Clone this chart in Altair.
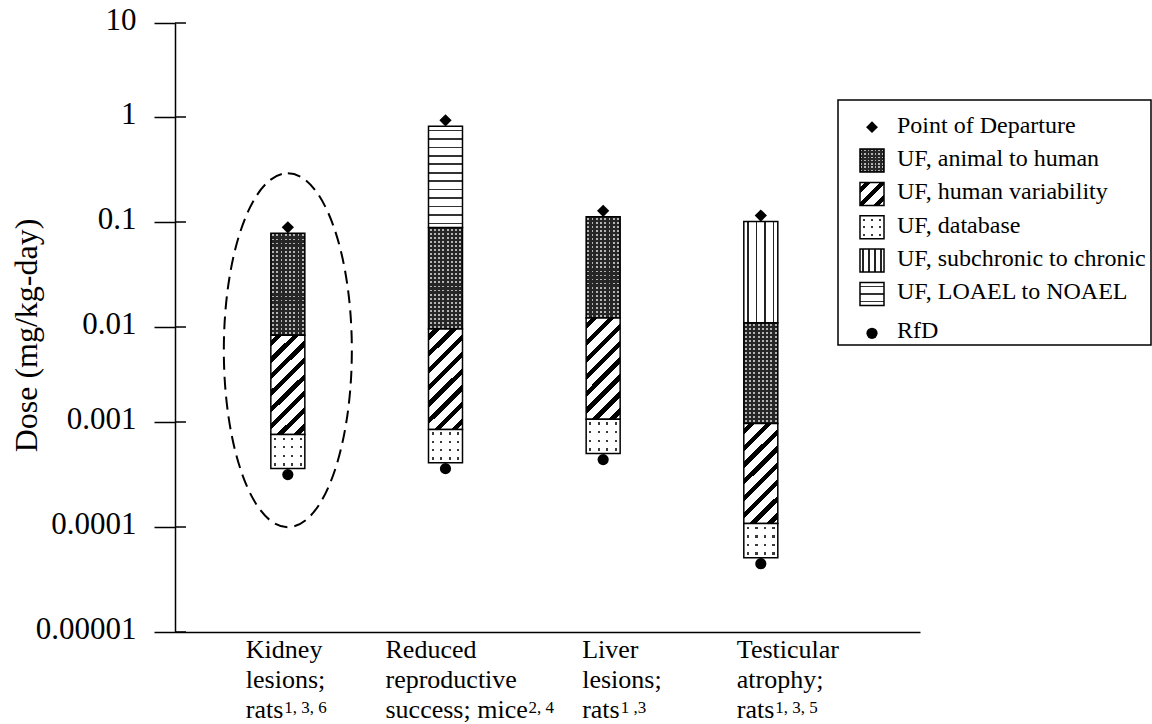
import altair as alt
import pandas as pd

FONT = "Liberation Serif"

# ---- data -------------------------------------------------------------
# Endpoint labels (three lines each) and their reference footnotes
endpoint_lines = [
    ["Kidney", "lesions;", "rats"],
    ["Reduced", "reproductive", "success; mice"],
    ["Liver", "lesions;", "rats"],
    ["Testicular", "atrophy;", "rats"],
]
endpoint_refs = ["1, 3, 6", "2, 4", "1 ,3", "1, 3, 5"]

# Point of departure and resulting RfD for each endpoint (mg/kg-day)
pod = [0.078, 0.815, 0.112, 0.101]
rfd = [0.00036, 0.00041, 0.0005, 0.000051]

# Uncertainty-factor segments, listed top to bottom within each bar
seg_endpoint = [0, 0, 0,
                1, 1, 1, 1,
                2, 2, 2,
                3, 3, 3, 3]
seg_factor = ["animal", "human", "database",
              "loael", "animal", "human", "database",
              "animal", "human", "database",
              "subchronic", "animal", "human", "database"]
seg_top = [0.078, 0.0082, 0.00076,
           0.815, 0.0885, 0.0095, 0.00085,
           0.112, 0.0122, 0.00107,
           0.101, 0.011, 0.00097, 0.000108]
seg_bottom = [0.0082, 0.00076, 0.00036,
              0.0885, 0.0095, 0.00085, 0.00041,
              0.0122, 0.00107, 0.0005,
              0.011, 0.00097, 0.000108, 0.000051]

# Decade ticks of the dose axis
y_ticks = [0.00001, 0.0001, 0.001, 0.01, 0.1, 1, 10]

legend_labels = ["Point of Departure", "UF, animal to human",
                 "UF, human variability", "UF, database",
                 "UF, subchronic to chronic", "UF, LOAEL to NOAEL", "RfD"]
legend_factors = ["animal", "human", "database", "subchronic", "loael"]

# Endpoint circled by the dashed outline, and the dose at its centre
highlight_endpoint = [0]
highlight_center = [0.0057]

# ---- layout -----------------------------------------------------------
W, H = 745, 609
BAR_W = 34

x_scale = alt.Scale(domain=[-0.684, 3.978], nice=False, zero=False)
# decade ticks are drawn at slightly uneven spacing, so the log scale is piecewise
y_scale = alt.Scale(type="log", domain=y_ticks,
                    range=[609, 504, 399, 304, 199, 94, 0], nice=False)

x_axis = alt.Axis(labels=False, ticks=False, grid=False, title=None,
                  domainColor="black", domainWidth=1.5)
y_axis = alt.Axis(values=y_ticks, format="~f", grid=False,
                  title="Dose (mg/kg-day)",
                  tickSize=21, tickWidth=1.5, tickColor="black",
                  domainColor="black", domainWidth=1.5,
                  labelFont=FONT, labelFontSize=31, labelColor="black",
                  labelPadding=18, labelOffset=-3, labelOverlap=False,
                  labelFlush=False,
                  titleFont=FONT, titleFontSize=32, titleFontWeight="normal",
                  titleColor="black", titleAngle=270, titleX=-139, titleY=312,
                  titleAlign="center", titleBaseline="alphabetic")


def X(field="endpoint"):
    return alt.X(f"{field}:Q", scale=x_scale, axis=x_axis)


def Y(field):
    return alt.Y(f"{field}:Q", scale=y_scale, axis=y_axis)


# ---- fill patterns built from hard-edged linear gradients ---------------
def bands(n, frac, on, off):
    stops = []
    for i in range(n):
        a = i / n
        s = a + (1 - frac) / (2 * n)
        e = a + (1 + frac) / (2 * n)
        b = (i + 1) / n
        stops += [(a, off), (s, off), (s, on), (e, on), (e, off), (b, off)]
    return [alt.GradientStop(offset=round(o, 5), color=c) for o, c in stops]


def grad(stops, x2, y2):
    return alt.LinearGradient(gradient="linear", stops=stops,
                              x1=0, y1=0, x2=x2, y2=y2)


def diag(w, h):
    # gradient vector giving 45-degree iso-lines in a w x h box
    k = (w + h) / (w * w + h * h)
    return k * w, k * h


CLEAR = "rgba(255,255,255,0)"
DARK = "#262626"
LIGHT = "#b4b4b4"


def patterns(w, h, dense):
    """Layers (bottom to top) for each factor; last layer carries the outline."""
    dx2, dy2 = diag(w, h)
    if dense:
        n_rows, n_cols, n_hatch, n_vert, n_horz, d_rows, d_cols = 25, 8, 8, 4, 12, 4, 4
    else:
        n_rows, n_cols, n_hatch, n_vert, n_horz, d_rows, d_cols = 7, 7, 3, 4, 3, 3, 3
    return {
        "animal": [grad(bands(n_rows, 0.45, LIGHT, DARK), 0, 1),
                   grad(bands(n_cols, 0.45, CLEAR, DARK), 1, 0)],
        "human": [grad(bands(n_hatch, 0.38, "black", "white"), dx2, dy2)],
        "database": [grad(bands(d_rows, 0.28, "#3a3a3a", "white"), 0, 1),
                     grad(bands(d_cols, 0.25, CLEAR, "white"), 1, 0)],
        "subchronic": [grad(bands(n_vert, 0.2, "#222222", "white"), 1, 0)],
        "loael": [grad(bands(n_horz, 0.2, "#333333", "white"), 0, 1)],
    }


bar_patterns = patterns(BAR_W, 101, True)
swatch_patterns = patterns(24, 23, False)

segs = pd.DataFrame({"endpoint": seg_endpoint, "factor": seg_factor,
                     "top": seg_top, "bottom": seg_bottom})

layers = []
for factor, fills in bar_patterns.items():
    for i, fill in enumerate(fills):
        last = i == len(fills) - 1
        style = dict(stroke="black", strokeWidth=1.5) if last else dict(strokeWidth=0)
        layers.append(
            alt.Chart(segs)
            .transform_filter(alt.datum.factor == factor)
            .mark_bar(size=BAR_W, fill=fill, opacity=1, **style)
            .encode(x=X(), y=Y("top"), y2="bottom:Q")
        )

ep = pd.DataFrame({
    "endpoint": list(range(len(endpoint_lines))),
    "pod": pod,
    "rfd": rfd,
    "label": ["\n".join(lines) for lines in endpoint_lines],
    "lead": [lines[-1] for lines in endpoint_lines],
    "refs": endpoint_refs,
})

# inner halves of the decade ticks
ticks_df = pd.DataFrame({"v": y_ticks})
layers.append(
    alt.Chart(ticks_df).mark_rule(color="black", strokeWidth=1.5)
    .encode(y=Y("v"), x=alt.value(0), x2=alt.value(11))
)

# point of departure (diamond) and RfD (dot) markers
layers.append(
    alt.Chart(ep).mark_point(shape="diamond", filled=True, color="black",
                             opacity=1, size=150, yOffset=-6)
    .encode(x=X(), y=Y("pod"))
)
layers.append(
    alt.Chart(ep).mark_circle(color="black", opacity=1, size=125, yOffset=6)
    .encode(x=X(), y=Y("rfd"))
)

# dashed ellipse around the highlighted endpoint
hl = pd.DataFrame({"endpoint": highlight_endpoint, "center": highlight_center})
layers.append(
    alt.Chart(hl).mark_point(
        shape="M 0 -1 A 0.3616 1 0 1 1 0 1 A 0.3616 1 0 1 1 0 -1 Z",
        size=125316, filled=False, stroke="black", strokeWidth=2,
        strokeDash=[13, 7], opacity=1)
    .encode(x=X(), y=Y("center"))
)

# endpoint labels below the axis (each text block nudged left of its bar),
# with superscript reference numbers after the last line
label_nudge = [-42, -60, -21, -24]
lead_width = {"rats": 38.5, "success; mice": 143}
LINE1_Y = 635
for i, nudge in enumerate(label_nudge):
    one_ep = alt.Chart(ep).transform_filter(alt.datum.endpoint == i)
    layers.append(
        one_ep.mark_text(align="left", baseline="alphabetic", font=FONT,
                         fontSize=26, lineHeight=30, lineBreak="\n",
                         dx=nudge, color="black")
        .encode(x=X(), y=alt.value(LINE1_Y), text="label:N")
    )
    layers.append(
        one_ep.mark_text(align="left", baseline="alphabetic", font=FONT,
                         fontSize=17, dx=nudge + lead_width[endpoint_lines[i][-1]],
                         color="black")
        .encode(x=X(), y=alt.value(LINE1_Y + 55), text="refs:N")
    )

# ---- legend -----------------------------------------------------------
one = pd.DataFrame({"k": [0]})
LEG_X, ROW0, ROW_STEP, RFD_ROW = 697, 104.2, 33.35, 310.3

layers.append(
    alt.Chart(one).mark_rect(fill="white", stroke="black", strokeWidth=1.5)
    .encode(x=alt.value(663), x2=alt.value(976), y=alt.value(77), y2=alt.value(322))
)
layers.append(
    alt.Chart(one).mark_point(shape="diamond", filled=True, color="black",
                              opacity=1, size=140)
    .encode(x=alt.value(LEG_X), y=alt.value(ROW0))
)
for r, factor in enumerate(legend_factors, start=1):
    cy = ROW0 + ROW_STEP * r
    fills = swatch_patterns[factor]
    for i, fill in enumerate(fills):
        last = i == len(fills) - 1
        style = dict(stroke="black", strokeWidth=1.5) if last else dict(strokeWidth=0)
        layers.append(
            alt.Chart(one).mark_rect(fill=fill, opacity=1, **style)
            .encode(x=alt.value(LEG_X - 12), x2=alt.value(LEG_X + 12),
                    y=alt.value(cy - 11.5), y2=alt.value(cy + 11.5))
        )
layers.append(
    alt.Chart(one).mark_circle(color="black", opacity=1, size=125)
    .encode(x=alt.value(LEG_X), y=alt.value(RFD_ROW))
)
legend_text = pd.DataFrame({"t": ["\n".join(legend_labels[:-1])]})
layers.append(
    alt.Chart(legend_text).mark_text(align="left", baseline="alphabetic",
                                     font=FONT, fontSize=24, lineHeight=ROW_STEP,
                                     lineBreak="\n", color="black")
    .encode(x=alt.value(722), y=alt.value(ROW0 + 5.5), text="t:N")
)
rfd_text = pd.DataFrame({"t": [legend_labels[-1]]})
layers.append(
    alt.Chart(rfd_text).mark_text(align="left", baseline="alphabetic",
                                  font=FONT, fontSize=24, color="black")
    .encode(x=alt.value(722), y=alt.value(RFD_ROW + 5), text="t:N")
)

chart = (
    alt.layer(*layers)
    .properties(width=W, height=H,
                autosize=alt.AutoSizeParams(type="none"),
                padding={"left": 175, "top": 23, "right": 232, "bottom": 92},
                background="white")
    .configure_view(stroke="transparent")
)

chart.save("out.html", embed_options={"renderer": "svg", "actions": False})
